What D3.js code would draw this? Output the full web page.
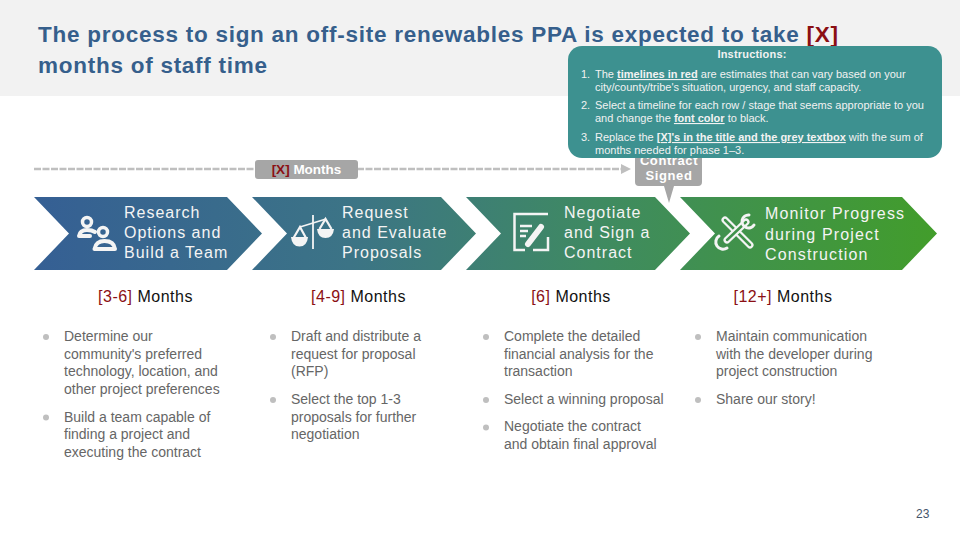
<!DOCTYPE html>
<html>
<head>
<meta charset="utf-8">
<script src="https://cdn.jsdelivr.net/npm/d3@7"></script>
<style>
  html, body { margin: 0; padding: 0; background: #fff; }
  svg { display: block; font-family: "Liberation Sans", Arial, sans-serif; }
</style>
</head>
<body>
<div id="slide"></div>
<script>
//****content****
const titleLines = ["The process to sign an off-site renewables PPA is expected to take ", "months of staff time"];
const titlePlaceholder = "[X]";
const stageNames = [
    ["Research", "Options and", "Build a Team"],
    ["Request", "and Evaluate", "Proposals"],
    ["Negotiate", "and Sign a", "Contract"],
    ["Monitor Progress", "during Project", "Construction"]
];
const stageDurations = ["[3-6]", "[4-9]", "[6]", "[12+]"];
const stageBullets = [
    [["Determine our", "community's preferred", "technology, location, and", "other project preferences"],
     ["Build a team capable of", "finding a project and", "executing the contract"]],
    [["Draft and distribute a", "request for proposal", "(RFP)"],
     ["Select the top 1-3", "proposals for further", "negotiation"]],
    [["Complete the detailed", "financial analysis for the", "transaction"],
     ["Select a winning proposal"],
     ["Negotiate the contract", "and obtain final approval"]],
    [["Maintain communication", "with the developer during", "project construction"],
     ["Share our story!"]]
];
const instructionItems = [
    [[["The ", 0], ["timelines in red", 1], [" are estimates that can vary based on your", 0]],
     [["city/county/tribe's situation, urgency, and staff capacity.", 0]]],
    [[["Select a timeline for each row / stage that seems appropriate to you", 0]],
     [["and change the ", 0], ["font color", 1], [" to black.", 0]]],
    [[["Replace the ", 0], ["[X]'s in the title and the grey textbox", 1], [" with the sum of", 0]],
     [["months needed for phase 1\u20133.", 0]]]
];
const pageNumber = "23";

//****layout****
const w = 960;
const h = 540;
const chevronLeft = [34, 252, 466, 680];
const chevronRight = [262, 476, 690, 937];
const labelX = [124, 342, 564, 765];
const durationX = [145.5, 358.5, 571, 783];
const bulletTextX = [64, 291, 504, 716];
const chevronTop = 197;
const chevronBottom = 270;
const chevronDepth = 35;
const navy = "#365f8c";
const red = "#8b0f14";
const greyBox = "#a6a6a6";

const svg = d3.select("#slide").append("svg")
    .attr("width", w)
    .attr("height", h);

const gradient = svg.append("defs").append("linearGradient")
    .attr("id", "stageFill")
    .attr("gradientUnits", "userSpaceOnUse")
    .attr("x1", 34).attr("x2", 937).attr("y1", 0).attr("y2", 0);
gradient.append("stop").attr("offset", "0%").attr("stop-color", "#355f94");
gradient.append("stop").attr("offset", "35%").attr("stop-color", "#3c7486");
gradient.append("stop").attr("offset", "62%").attr("stop-color", "#3f8a62");
gradient.append("stop").attr("offset", "100%").attr("stop-color", "#429d2b");

// header band
svg.append("rect").attr("width", w).attr("height", 96).attr("fill", "#f2f2f2");

const title = svg.append("g")
    .attr("font-size", 22.5)
    .attr("font-weight", "bold")
    .attr("letter-spacing", 0.74)
    .attr("fill", navy);
const firstLine = title.append("text").attr("x", 38).attr("y", 42).attr("xml:space", "preserve");
firstLine.append("tspan").text(titleLines[0]);
firstLine.append("tspan").attr("fill", red).text(titlePlaceholder);
title.append("text").attr("x", 38).attr("y", 73).text(titleLines[1]);

// timeline arrow
svg.append("line")
    .attr("x1", 34).attr("x2", 624).attr("y1", 169).attr("y2", 169)
    .attr("stroke", "#bfbfbf")
    .attr("stroke-width", 2.5)
    .attr("stroke-dasharray", "7 1.5");
svg.append("path")
    .attr("d", d3.line()([[621, 164], [631, 169], [621, 174]]))
    .attr("fill", "#bfbfbf");

svg.append("rect")
    .attr("x", 255).attr("y", 160).attr("width", 103).attr("height", 19).attr("rx", 3)
    .attr("fill", greyBox);
const timelineTag = svg.append("text")
    .attr("x", 306.5).attr("y", 174)
    .attr("text-anchor", "middle")
    .attr("font-size", 13.5)
    .attr("font-weight", "bold")
    .attr("fill", "#fff");
timelineTag.append("tspan").attr("fill", red).text(titlePlaceholder);
timelineTag.append("tspan").text(" Months");

// contract signed callout
svg.append("path")
    .attr("d", "M639 150H698Q702 150 702 154V182Q702 186 698 186H674L669 203L664 186H639Q635 186 635 182V154Q635 150 639 150Z")
    .attr("fill", greyBox);
svg.append("g")
    .attr("font-size", 13)
    .attr("font-weight", "bold")
    .attr("fill", "#fff")
    .attr("letter-spacing", 0.6)
    .attr("text-anchor", "middle")
    .selectAll("text")
    .data(["Contract", "Signed"])
    .join("text")
    .attr("x", 669)
    .attr("y", (d, i) => 165 + i * 15)
    .text(d => d);

// stages
const stage = svg.append("g").selectAll("g")
    .data(stageNames)
    .join("g");

stage.append("path")
    .attr("d", (d, i) => {
        const l = chevronLeft[i];
        const r = chevronRight[i];
        const mid = (chevronTop + chevronBottom) / 2;
        return d3.line()([
            [l, chevronTop], [r - chevronDepth, chevronTop], [r, mid],
            [r - chevronDepth, chevronBottom], [l, chevronBottom], [l + chevronDepth, mid]
        ]) + "Z";
    })
    .attr("fill", "url(#stageFill)");

stage.append("g")
    .attr("font-size", 16)
    .attr("fill", "#f4f4f4")
    .selectAll("text")
    .data((d, i) => d.map(line => ({ line, i })))
    .join("text")
    .attr("letter-spacing", d => d.i === 3 ? 1.15 : 1)
    .attr("x", d => labelX[d.i])
    .attr("y", (d, j) => d.i === 3 ? 219 + j * 20.5 : 218 + j * 20)
    .text(d => d.line);

// stage icons
const iconWhite = "#f4f4f4";
const people = svg.append("g").attr("fill", "none").attr("stroke", iconWhite)
    .attr("stroke-linejoin", "round").attr("stroke-linecap", "round");
people.append("circle").attr("cx", 87).attr("cy", 222).attr("r", 4.5).attr("stroke-width", 3.5);
people.append("circle").attr("cx", 103).attr("cy", 232).attr("r", 4.5).attr("stroke-width", 3.5);
people.append("path").attr("stroke-width", 4)
    .attr("d", "M90 236H79Q80 230 87 230Q92 230 95 232");
people.append("path").attr("stroke-width", 4)
    .attr("d", "M94.500 249H115Q114 241 104.500 241Q96 241 94.500 249Z");

const scaleIcon = svg.append("g").attr("stroke", iconWhite).attr("fill", "none");
scaleIcon.append("line").attr("x1", 313).attr("x2", 313).attr("y1", 215).attr("y2", 249).attr("stroke-width", 1.8);
scaleIcon.append("line").attr("x1", 300).attr("x2", 326).attr("y1", 227).attr("y2", 219).attr("stroke-width", 1.8);
scaleIcon.append("path").attr("stroke-width", 2.2).attr("d", "M293.500 238L300 227L306 238");
scaleIcon.append("path").attr("fill", iconWhite).attr("stroke", "none").attr("d", "M291 237H308Q307 246.500 299.500 246.500Q292 246.500 291 237Z");
scaleIcon.append("path").attr("stroke-width", 2.2).attr("d", "M319.500 229L325.500 219L331.500 229");
scaleIcon.append("path").attr("fill", iconWhite).attr("stroke", "none").attr("d", "M317 229H334Q333 238 325.500 238Q318 238 317 229Z");

const docIcon = svg.append("g").attr("stroke", iconWhite).attr("fill", "none").attr("stroke-width", 2.5);
docIcon.append("path").attr("d", "M548 214H514.500V250H525M548 237V250H533");
docIcon.append("path").attr("d", "M520 226H532M520 231H528M520 236H526");
docIcon.append("path").attr("stroke-width", 6).attr("stroke-linecap", "round").attr("d", "M528 244L541 227");

const toolsIcon = svg.append("g").attr("fill", "none").attr("stroke-linecap", "round");
toolsIcon.append("path").attr("stroke", iconWhite).attr("stroke-width", 7).attr("d", "M725 220L750 245");
toolsIcon.append("path").attr("stroke", "url(#stageFill)").attr("stroke-width", 2.5).attr("d", "M725 220L750 245");
toolsIcon.append("path").attr("stroke", iconWhite).attr("stroke-width", 7).attr("d", "M727 240L746 222");
toolsIcon.append("path").attr("stroke", "url(#stageFill)").attr("stroke-width", 2.5).attr("d", "M727 240L746 222");
toolsIcon.append("path").attr("stroke", iconWhite).attr("stroke-width", 3).attr("d", "M749 215A6.500 6.500 0 1 0 754 225");
toolsIcon.append("path").attr("stroke", iconWhite).attr("stroke-width", 3).attr("d", "M719 236A6.500 6.500 0 1 0 727 248");

// durations
svg.append("g")
    .attr("font-size", 16)
    .attr("letter-spacing", 0.5)
    .attr("text-anchor", "middle")
    .selectAll("text")
    .data(stageDurations)
    .join("text")
    .attr("x", (d, i) => durationX[i])
    .attr("y", 301.5)
    .call(t => t.append("tspan").attr("fill", red).text(d => d))
    .call(t => t.append("tspan").attr("fill", "#111").text(" Months"));

// bullet columns, flowed line by line
const lineStep = 17.7;
const paragraphStep = 27.5;
stageBullets.forEach((paragraphs, i) => {
    const col = svg.append("g");
    let y = 341;
    paragraphs.forEach(lines => {
        col.append("circle")
            .attr("cx", bulletTextX[i] - 18)
            .attr("cy", y - 4)
            .attr("r", 3)
            .attr("fill", "#bfbfbf");
        lines.forEach((line, j) => {
            col.append("text")
                .attr("x", bulletTextX[i])
                .attr("y", y + j * lineStep)
                .attr("font-size", 14)
                .attr("fill", "#666")
                .text(line);
        });
        y += (lines.length - 1) * lineStep + paragraphStep;
    });
});

// instructions box
const note = svg.append("g");
note.append("rect")
    .attr("x", 568).attr("y", 46).attr("width", 374).attr("height", 112).attr("rx", 14)
    .attr("fill", "#3d9190");
note.append("text")
    .attr("x", 752).attr("y", 58)
    .attr("text-anchor", "middle")
    .attr("font-size", 11)
    .attr("font-weight", "bold")
    .attr("letter-spacing", 0.2)
    .attr("fill", "#f2f2f2")
    .text("Instructions:");
const noteBaselines = [[78, 91], [109, 122], [141, 154]];
instructionItems.forEach((lines, i) => {
    note.append("text")
        .attr("x", 581).attr("y", noteBaselines[i][0])
        .attr("font-size", 11).attr("fill", "#f2f2f2")
        .text((i + 1) + ".");
    lines.forEach((runs, j) => {
        const t = note.append("text")
            .attr("x", 595).attr("y", noteBaselines[i][j])
            .attr("font-size", 11)
            .attr("fill", "#f2f2f2")
            .attr("xml:space", "preserve");
        runs.forEach(run => {
            t.append("tspan")
                .attr("font-weight", run[1] ? "bold" : "normal")
                .attr("text-decoration", run[1] ? "underline" : "none")
                .text(run[0]);
        });
    });
});

svg.append("text")
    .attr("x", 916).attr("y", 518)
    .attr("font-size", 12)
    .attr("fill", "#44546a")
    .text(pageNumber);
</script>
</body>
</html>
